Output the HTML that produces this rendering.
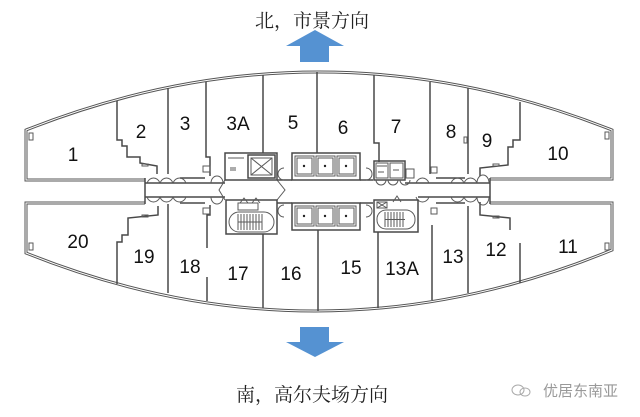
<!DOCTYPE html>
<html><head><meta charset="utf-8"><style>
html,body{margin:0;padding:0;background:#fff;}
svg{display:block;}
.w{fill:none;stroke:#484848;stroke-width:1.5;stroke-linejoin:miter;}
.t{fill:none;stroke:#5a5a5a;stroke-width:1;}
.num{font-family:"Liberation Sans",Arial,sans-serif;font-size:19px;fill:#111;text-anchor:middle;}
.cn{font-family:"Liberation Serif","Noto Serif CJK SC",serif;font-size:19px;fill:#222;text-anchor:middle;}
</style></head><body>
<svg width="640" height="417" viewBox="0 0 640 417" xmlns="http://www.w3.org/2000/svg">
<rect width="640" height="417" fill="#fff"/>
<!-- titles -->
<text class="cn" x="312" y="27">北，市景方向</text>
<text class="cn" x="312" y="401">南，高尔夫场方向</text>
<!-- arrows -->
<polygon points="315,30 344,46 329,46 329,62 300,62 300,46 286,46" fill="#5592d2"/>
<polygon points="300,327 329,327 329,342 344,342 315,357 286,342 300,342" fill="#5592d2"/>
<!-- watermark -->
<g fill="none" stroke="#aaa" stroke-width="1">
<ellipse cx="518" cy="390" rx="6" ry="5"/>
<ellipse cx="525" cy="392" rx="5" ry="4"/>
</g>
<text x="543" y="396" font-family="Liberation Sans,'Noto Sans CJK SC',sans-serif" font-size="15" fill="#999">优居东南亚</text>

<!-- outer walls (double line) -->
<g fill="none" stroke-linejoin="miter">
<path d="M145,180 L26,180 L26,130 Q319,14 612,130 L612,179 L490,179" stroke="#555" stroke-width="3"/>
<path d="M145,180 L26,180 L26,130 Q319,14 612,130 L612,179 L490,179" stroke="#fff" stroke-width="1"/>
<path d="M145,203 L26,203 L26,253 Q319,370.5 612,250 L612,203 L490,203" stroke="#555" stroke-width="3"/>
<path d="M145,203 L26,203 L26,253 Q319,370.5 612,250 L612,203 L490,203" stroke="#fff" stroke-width="1"/>
</g>
<!-- corridor -->
<g class="w">
<path d="M145,178 L145,204"/>
<path d="M490,178 L490,204"/>
<path d="M145,183 L225,183 M405,183 L490,183"/>
<path d="M145,197 L225,197 M418,197 L490,197"/>
<path d="M277,180 L292,180 M360,180 L373,180"/>
<path d="M277,203 L292,203 M360,203 L373,203"/>
</g>
<!-- small corner boxes -->
<g class="t">
<rect x="29" y="133" width="4" height="7"/>
<rect x="29" y="243" width="4" height="7"/>
<rect x="605" y="132" width="4" height="7"/>
<rect x="605" y="243" width="4" height="7"/>
</g>
<!-- top partitions -->
<g class="w">
<path d="M117,101 L117,140 L122,140 L122,146 L127,146 L127,157 L140,157 L140,163 L157,166 L157,174"/>
<path d="M168,88 L168,174"/>
<path d="M206,82 L206,157 L210,157 L210,176"/>
<path d="M263,75 L263,153"/>
<path d="M317,72 L317,153"/>
<path d="M374,75 L374,143 L379,143 L379,162"/>
<path d="M430,82 L430,174"/>
<path d="M468,88 L468,174"/>
<path d="M520,102 L520,140 L513,140 L513,147 L508,147 L508,165 L480,168 L480,176"/>
<path d="M180,178 L205,178"/>
<path d="M436,178 L465,178"/>
</g>
<!-- bottom partitions -->
<g class="w">
<path d="M158,206 L158,215 L128,218 L128,235 L122,235 L122,242 L117,242 L117,284"/>
<path d="M168,204 L168,293"/>
<path d="M210,205 L210,215 L207,215 L207,248 M207,277 L207,301"/>
<path d="M263,234 L263,308"/>
<path d="M318,230 L318,311"/>
<path d="M378,232 L378,308"/>
<path d="M432,225 L432,300"/>
<path d="M468,206 L468,293"/>
<path d="M480,202 L480,215 L510,218 L510,230"/>
<path d="M520,243 L520,283"/>
<path d="M180,203 L205,203"/>
<path d="M436,203 L465,203"/>
</g>
<!-- small boxes near walls -->
<g class="t">
<rect x="203" y="166" width="7" height="6"/>
<rect x="203" y="208" width="7" height="6"/>
<rect x="431" y="167" width="6" height="6"/>
<rect x="431" y="208" width="6" height="6"/>
<rect x="464" y="137" width="3" height="6"/>
<rect x="142" y="164" width="6" height="2"/>
<rect x="142" y="215" width="6" height="2"/>
<rect x="493" y="164" width="6" height="2"/>
<rect x="493" y="216" width="6" height="2"/>
</g>
<!-- door arcs -->
<g class="t">
<path d="M147,183 A7,8 0 0,1 160,183 M160,183 A7,8 0 0,1 173,183 M173,183 A7,8 0 0,1 186,183 M211,183 A6,7 0 0,1 223,183"/>
<path d="M147,197 A7,8 0 0,0 160,197 M160,197 A7,8 0 0,0 173,197 M173,197 A7,8 0 0,0 186,197 M211,197 A6,7 0 0,0 223,197"/>
<path d="M416,183 A7,8 0 0,1 429,183 M451,183 A7,8 0 0,1 464,183 M464,183 A7,8 0 0,1 477,183 M477,183 A6,8 0 0,1 489,183"/>
<path d="M416,197 A7,8 0 0,0 429,197 M451,197 A7,8 0 0,0 464,197 M464,197 A7,8 0 0,0 477,197 M477,197 A6,8 0 0,0 489,197"/>
<path d="M284,168 A6,6 0 0,0 284,180 M366,168 A6,6 0 0,1 366,180"/>
<path d="M284,205 A6,6 0 0,0 284,217 M366,205 A6,6 0 0,1 366,217"/>
<path d="M277,180 L285,190 L277,200 M225,180 L219,190 L225,200"/>
</g>
<!-- left top core -->
<g class="w">
<rect x="225" y="153" width="52" height="27"/>
<rect x="248" y="155" width="27" height="23"/>
</g>
<g class="t">
<rect x="251" y="158" width="21" height="17"/>
<path d="M251,158 L272,175 M272,158 L251,175"/>
<path d="M228,158 L244,158 M230,168 L236,168 M230,170 L236,170"/>
</g>
<!-- top elevators -->
<g class="w">
<rect x="292" y="153" width="68" height="27"/>
</g>
<g class="t">
<rect x="295" y="156" width="19" height="20"/>
<rect x="316" y="156" width="19" height="20"/>
<rect x="337" y="156" width="19" height="20"/>
<rect x="297" y="158" width="15" height="16"/>
<rect x="318" y="158" width="15" height="16"/>
<rect x="339" y="158" width="15" height="16"/>
</g>
<g fill="#222">
<circle cx="304" cy="166" r="1.2"/><circle cx="325" cy="166" r="1.2"/><circle cx="346" cy="166" r="1.2"/>
<circle cx="304" cy="216" r="1.2"/><circle cx="325" cy="216" r="1.2"/><circle cx="346" cy="216" r="1.2"/>
</g>
<!-- bottom elevators -->
<g class="w">
<rect x="292" y="203" width="68" height="27"/>
</g>
<g class="t">
<rect x="295" y="206" width="19" height="20"/>
<rect x="316" y="206" width="19" height="20"/>
<rect x="337" y="206" width="19" height="20"/>
<rect x="297" y="208" width="15" height="16"/>
<rect x="318" y="208" width="15" height="16"/>
<rect x="339" y="208" width="15" height="16"/>
</g>
<!-- right top core (toilets) -->
<g class="w">
<rect x="374" y="161" width="31" height="19"/>
</g>
<g class="t">
<rect x="376" y="163" width="12" height="15"/>
<rect x="390" y="163" width="13" height="15"/>
<rect x="406" y="169" width="8" height="9"/>
<path d="M377,166 L387,166 M378,172 L384,172 M393,170 L399,170"/>
<path d="M376,180 A5,5 0 0,0 386,180 M388,180 A5,5 0 0,0 398,180 M400,180 A5,5 0 0,0 410,180"/>
</g>
<!-- left bottom stair core -->
<g class="w">
<rect x="226" y="200" width="51" height="34"/>
</g>
<g class="t">
<rect x="229" y="212" width="45" height="20" rx="10"/>
<path d="M238,214 L238,230 M241,214 L241,230 M244,214 L244,230 M247,214 L247,230 M250,214 L250,230 M253,214 L253,230 M256,214 L256,230 M259,214 L259,230 M262,214 L262,230"/>
<path d="M238,222 L262,222"/>
<path d="M238,203 L258,203 L258,210 L238,210 Z"/>
<path d="M240,203 L244,198 L248,203 M252,203 L256,198 L260,203"/>
</g>
<!-- right bottom stair core -->
<g class="w">
<rect x="374" y="200" width="44" height="32"/>
</g>
<g class="t">
<rect x="377" y="210" width="38" height="19" rx="9"/>
<path d="M385,212 L385,227 M388,212 L388,227 M391,212 L391,227 M394,212 L394,227 M397,212 L397,227 M400,212 L400,227 M403,212 L403,227"/>
<path d="M385,219.5 L405,219.5"/>
<rect x="377" y="202" width="10" height="6"/>
<path d="M377,202 L387,208 M387,202 L377,208"/>
<path d="M393,202 L397,196 L401,202"/>
</g>
<!-- room numbers -->
<g class="num">
<text x="73" y="161">1</text>
<text x="141" y="138">2</text>
<text x="185" y="130">3</text>
<text x="238" y="130">3A</text>
<text x="293" y="129">5</text>
<text x="343" y="134">6</text>
<text x="396" y="133">7</text>
<text x="451" y="138">8</text>
<text x="487" y="147">9</text>
<text x="558" y="160">10</text>
<text x="78" y="248">20</text>
<text x="144" y="263">19</text>
<text x="190" y="273">18</text>
<text x="238" y="280">17</text>
<text x="291" y="280">16</text>
<text x="351" y="274">15</text>
<text x="402" y="275">13A</text>
<text x="453" y="263">13</text>
<text x="496" y="256">12</text>
<text x="568" y="253">11</text>
</g>
</svg>
</body></html>
